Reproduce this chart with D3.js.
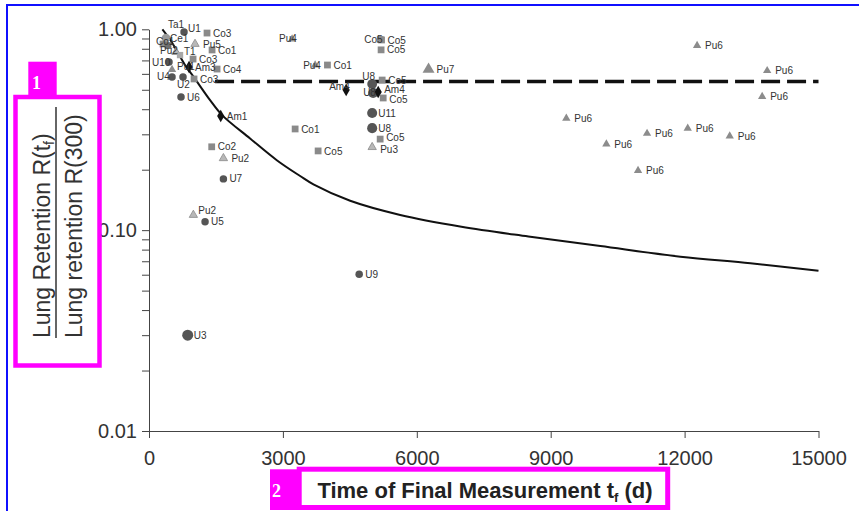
<!DOCTYPE html>
<html>
<head>
<meta charset="utf-8">
<script src="https://cdn.jsdelivr.net/npm/d3@7"></script>
<style>
  body { margin: 0; background: #fff; }
  svg { display: block; font-family: "Liberation Sans", Arial, sans-serif; }
</style>
</head>
<body>
<svg></svg>
<script>
const width = 859;
const height = 511;

// measured points: label, element group, time of final measurement (d), R(tf)/R(300)
const pointLabels = [
  "Ta1", "U1", "Co3", "Co1", "Ce1", "Pu5", "Co1", "Pu2", "T1", "U10",
  "Co3", "Pu1", "Am3", "Co4", "U4", "U2", "Co3", "U6", "Am1", "Co2",
  "Pu2", "U7", "Pu2", "U5", "U3", "Pu4", "Pu4", "Co1", "Co1", "Co5",
  "Am4", "U9", "Co5", "Co5", "Co5", "U8", "Co5", "U8", "Am4", "Co5",
  "U11", "U8", "Co5", "Pu3", "Pu7", "Pu6", "Pu6", "Pu6", "Pu6", "Pu6",
  "Pu6", "Pu6", "Pu6", "Pu6"
];
const pointGroups = [
  "Ta", "U", "Co", "Co", "Ce", "Pu", "Co", "Pu", "Th", "U",
  "Co", "Pu", "Am", "Co", "U", "U", "Co", "U", "Am", "Co",
  "Pu", "U", "Pu", "U", "U", "Pu", "Pu", "Co", "Co", "Co",
  "Am", "U", "Co", "Co", "Co", "U", "Co", "U", "Am", "Co",
  "U", "U", "Co", "Pu", "Pu", "Pu", "Pu", "Pu", "Pu", "Pu",
  "Pu", "Pu", "Pu", "Pu"
];
const pointTimes = [
  381, 785, 1300, 314, 426, 1031, 1413, 605, 695, 448,
  987, 516, 897, 1525, 516, 762, 1009, 717, 1607, 1405,
  1667, 1667, 994, 1256, 867, 3206, 3722, 3998, 3274, 3789,
  4417, 4709, 5180, 5210, 5200, 5000, 5224, 5022, 5135, 5247,
  5000, 5000, 5179, 5000, 6263, 12280, 13850, 13738, 9350, 10247,
  11159, 12070, 13011, 10957
];
const pointRatios = [
  0.905, 0.97, 0.958, 0.845, 0.83, 0.845, 0.789, 0.77, 0.744, 0.687,
  0.711, 0.63, 0.649, 0.634, 0.579, 0.579, 0.566, 0.46, 0.37, 0.26,
  0.228, 0.18, 0.119, 0.11, 0.03, 0.895, 0.664, 0.664, 0.319, 0.248,
  0.499, 0.0603, 0.89, 0.885, 0.79, 0.534, 0.559, 0.482, 0.487, 0.455,
  0.383, 0.322, 0.284, 0.259, 0.632, 0.829, 0.622, 0.462, 0.36, 0.268,
  0.303, 0.321, 0.294, 0.198
];

// model retention curve
const curveTimes = [300, 500, 807, 1000, 1368, 1637, 2265, 2863, 3386, 3684, 4507, 5628, 7000, 8500, 10112, 11906, 13475, 15000];
const curveRatios = [1.0, 0.87, 0.664, 0.58, 0.444, 0.374, 0.286, 0.223, 0.186, 0.169, 0.14, 0.119, 0.104, 0.093, 0.0833, 0.0738, 0.0684, 0.0628];

// dashed reference level
const dashLevel = 0.55;
const dashSpan = [1480, 15000];

const xTickValues = [0, 3000, 6000, 9000, 12000, 15000];
const yMajorTicks = [0.01, 0.1, 1];

const svg = d3.select("svg").attr("width", width).attr("height", height);

// scales
const x = d3.scaleLinear().domain([0, 15000]).range([149, 818.5]);
const y = d3.scaleLog().domain([0.01, 1]).range([431, 29.3]);

//blue frame (top and left edges)
svg.append("path")
  .attr("d", "M7,520 V5 H860")
  .attr("fill", "none")
  .attr("stroke", "#1010ff")
  .attr("stroke-width", 2);

// axes
const yTickValues = [];
[0.01, 0.1].forEach((dec) => {
  for (let k = 1; k < 10; k++) yTickValues.push(+(k * dec).toPrecision(3));
});
yTickValues.push(1);

const yAxis = d3.axisLeft(y)
  .tickValues(yTickValues)
  .tickSize(7)
  .tickSizeOuter(0)
  .tickPadding(5)
  .tickFormat((d) => (yMajorTicks.includes(d) ? d3.format(".2f")(d) : ""));

const xAxis = d3.axisBottom(x)
  .tickValues(xTickValues)
  .tickSize(7)
  .tickSizeOuter(0)
  .tickPadding(13)
  .tickFormat(d3.format("d"));

const gy = svg.append("g").attr("transform", "translate(149,0)").call(yAxis);
const gx = svg.append("g").attr("transform", "translate(0,431)").call(xAxis);

[gx, gy].forEach((g) => {
  g.attr("font-size", 20).attr("font-family", "'Liberation Sans', Arial, sans-serif");
  g.selectAll("text").attr("fill", "#333");
  g.selectAll("line").attr("stroke", "#444");
  g.select(".domain").attr("stroke", "#444");
});

// lines
const line = d3.line()
  .x((d) => x(d[0]))
  .y((d) => y(d[1]));

svg.append("path")
  .datum(dashSpan.map((t) => [t, dashLevel]))
  .attr("d", line)
  .attr("fill", "none")
  .attr("stroke", "#111")
  .attr("stroke-width", 3.5)
  .attr("stroke-dasharray", "19,7");

svg.append("path")
  .datum(curveTimes.map((t, i) => [t, curveRatios[i]]))
  .attr("d", line.curve(d3.curveCatmullRom.alpha(0.5)))
  .attr("fill", "none")
  .attr("stroke", "#111")
  .attr("stroke-width", 2);

// marker styles
const groupStyle = {
  U: { type: d3.symbolCircle, size: 44, fill: "#555" },
  Ta: { type: d3.symbolCircle, size: 60, fill: "#9a9a9a" },
  Co: { type: d3.symbolSquare, size: 46, fill: "#8a8a8a" },
  Ce: { type: d3.symbolSquare, size: 46, fill: "#6e6e6e" },
  Th: { type: d3.symbolSquare, size: 40, fill: "#a8a8a8" },
  Pu: { type: d3.symbolTriangle, size: 30, fill: "#8c8c8c" },
  Am: { type: d3.symbolDiamond, size: 45, fill: "#111" },
};
const bigMarkers = { 24: 95, 35: 75, 37: 80, 40: 80, 41: 80, 44: 62 };
const lightMarkers = new Set([5, 7, 20, 22, 43]);

// label offsets for the crowded spots
const labelNudge = {
  0: [2, -10], 1: [4, 0], 3: [-7, 1], 4: [2, -4], 7: [-16, 1.5], 8: [4, 0],
  9: [-17, 3.5], 11: [5, 0], 14: [-15, 3.5], 15: [-6, 11], 22: [5, -1],
  25: [-13, 3.5], 26: [-12, 3.5], 30: [-17, 0], 32: [-16, 3.5],
  35: [-10, -4], 37: [-10, 3.5], 38: [6, 1], 39: [6, 5],
  42: [6, 2], 43: [8, 5.5],
};

const points = pointLabels.map((label, i) => ({
  i,
  label,
  group: pointGroups[i],
  t: pointTimes[i],
  r: pointRatios[i],
}));

svg.append("g")
  .selectAll("path")
  .data(points)
  .enter()
  .append("path")
  .attr("transform", (d) => `translate(${x(d.t)},${y(d.r)})`)
  .attr("d", (d) =>
    d3.symbol().type(groupStyle[d.group].type).size(bigMarkers[d.i] || groupStyle[d.group].size)()
  )
  .attr("fill", (d) => (lightMarkers.has(d.i) ? "#b8b8b8" : groupStyle[d.group].fill))
  .attr("stroke", (d) => (lightMarkers.has(d.i) ? "#8a8a8a" : "none"))
  .attr("stroke-width", 0.8);

svg.append("g")
  .selectAll("text")
  .data(points)
  .enter()
  .append("text")
  .attr("x", (d) => {
    const n = labelNudge[d.i];
    return x(d.t) + (n ? n[0] : d.group === "Pu" ? 8 : 6);
  })
  .attr("y", (d) => {
    const n = labelNudge[d.i];
    return y(d.r) + (n ? n[1] : 3.6);
  })
  .attr("font-size", 10)
  .attr("fill", "#333")
  .text((d) => d.label);

// y axis title (fraction)
const yTitle = svg.append("g").attr("transform", "rotate(-90)");
const numerator = yTitle.append("text")
  .attr("x", -338)
  .attr("y", 49.5)
  .attr("font-size", 23)
  .attr("fill", "#333");
numerator.append("tspan").text("Lung Retention R(t");
numerator.append("tspan").attr("font-size", 14).attr("dy", 4).text("f");
numerator.append("tspan").attr("dy", -4).text(")");
yTitle.append("line")
  .attr("x1", -338).attr("x2", -107)
  .attr("y1", 56).attr("y2", 56)
  .attr("stroke", "#333")
  .attr("stroke-width", 1.5);
yTitle.append("text")
  .attr("x", -338)
  .attr("y", 81.5)
  .attr("font-size", 23)
  .attr("fill", "#333")
  .text("Lung retention R(300)");

// x axis title
const xTitle = svg.append("text")
  .attr("x", 485)
  .attr("y", 498)
  .attr("text-anchor", "middle")
  .attr("font-size", 22)
  .attr("font-weight", "bold")
  .attr("fill", "#222");
xTitle.append("tspan").text("Time of Final Measurement t");
xTitle.append("tspan").attr("font-size", 13).attr("dy", 4).text("f");
xTitle.append("tspan").attr("dy", -4).text(" (d)");

// magenta callout boxes
const magenta = "#ff00ff";
svg.append("rect")
  .attr("x", 15.5).attr("y", 97).attr("width", 84).attr("height", 268.5)
  .attr("fill", "none").attr("stroke", magenta).attr("stroke-width", 4.5);
svg.append("rect")
  .attr("x", 28.3).attr("y", 61.7).attr("width", 28.4).attr("height", 33.3)
  .attr("fill", magenta);
svg.append("text")
  .attr("x", 32).attr("y", 88.5)
  .attr("font-family", "'Liberation Serif', serif")
  .attr("font-weight", "bold")
  .attr("font-size", 18)
  .attr("fill", "#fff")
  .text("1");

svg.append("rect")
  .attr("x", 299.2).attr("y", 469.2).attr("width", 368.5).attr("height", 38.3)
  .attr("fill", "none").attr("stroke", magenta).attr("stroke-width", 5);
svg.append("rect")
  .attr("x", 270).attr("y", 469.3).attr("width", 27).attr("height", 40.7)
  .attr("fill", magenta);
svg.append("text")
  .attr("x", 272).attr("y", 496.7)
  .attr("font-family", "'Liberation Serif', serif")
  .attr("font-weight", "bold")
  .attr("font-size", 18)
  .attr("fill", "#fff")
  .text("2");
</script>
</body>
</html>
